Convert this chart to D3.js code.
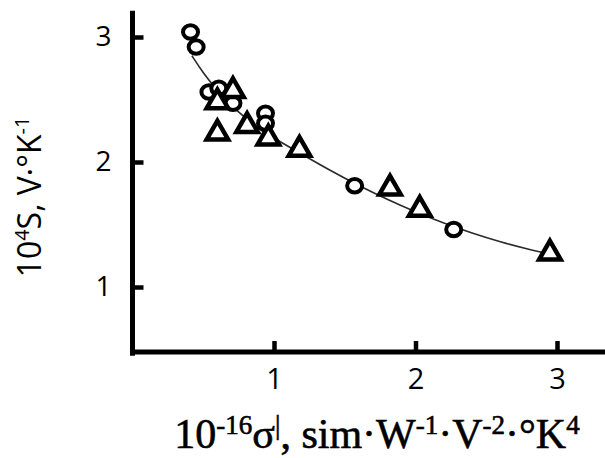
<!DOCTYPE html>
<html>
<head>
<meta charset="utf-8">
<script src="https://cdn.jsdelivr.net/npm/d3@7"></script>
<style>
  html, body { margin: 0; padding: 0; background: #fff; }
  svg { display: block; }
</style>
</head>
<body>
<script>
// ---- data ----
const circleX = [0.41, 0.45, 0.54, 0.61, 0.71, 0.94, 0.94, 1.57, 2.27];
const circleY = [3.04, 2.92, 2.56, 2.59, 2.47, 2.39, 2.31, 1.81, 1.46];
const triangleX = [0.71, 0.60, 0.60, 0.81, 0.96, 1.18, 1.82, 2.03, 2.95];
const triangleY = [2.57, 2.48, 2.23, 2.29, 2.19, 2.10, 1.79, 1.62, 1.27];
const curveX = [0.42, 0.50, 0.60, 0.70, 0.80, 0.90, 1.00, 1.20, 1.40, 1.60, 1.80, 2.00, 2.20, 2.40, 2.60, 2.80, 3.00];
const curveY = [2.85, 2.71, 2.57, 2.45, 2.35, 2.26, 2.19, 2.06, 1.93, 1.81, 1.70, 1.60, 1.51, 1.43, 1.36, 1.30, 1.25];
const xTicks = [1, 2, 3];
const yTicks = [1, 2, 3];
const xTickLabels = ["1", "2", "3"];
const yTickLabels = ["1", "2", "3"];

const W = 605, H = 458;
const svg = d3.select("body").append("svg").attr("width", W).attr("height", H);

const x = d3.scaleLinear().domain([0, 3]).range([132.5, 557]);
const y = d3.scaleLinear().domain([1, 3]).range([287, 37]);

// axes lines
svg.append("line")
  .attr("x1", x(0) - 2).attr("x2", W)
  .attr("y1", y(0.48)).attr("y2", y(0.48))
  .attr("stroke", "#000").attr("stroke-width", 5);
svg.append("line")
  .attr("x1", x(0)).attr("x2", x(0))
  .attr("y1", y(3.21)).attr("y2", y(0.45))
  .attr("stroke", "#000").attr("stroke-width", 5);

// x axis
const xAxis = d3.axisBottom(x).tickValues(xTicks)
  .tickFormat((d, i) => xTickLabels[i])
  .tickSize(-11).tickSizeOuter(0).tickPadding(16);
const gx = svg.append("g").attr("transform", `translate(0,${y(0.48)})`).call(xAxis);
gx.select(".domain").remove();
gx.selectAll(".tick line").attr("stroke", "#000").attr("stroke-width", 4.5);
gx.selectAll(".tick text").attr("fill", "#000")
  .style("font-family", "'Open Sans', sans-serif").style("font-size", "29px");

// y axis
const yAxis = d3.axisLeft(y).tickValues(yTicks)
  .tickFormat((d, i) => yTickLabels[i])
  .tickSize(-11).tickSizeOuter(0).tickPadding(21);
const gy = svg.append("g").attr("transform", `translate(${x(0)},0)`).call(yAxis);
gy.select(".domain").remove();
gy.selectAll(".tick line").attr("stroke", "#000").attr("stroke-width", 4.5);
gy.selectAll(".tick text").attr("fill", "#000")
  .style("font-family", "'Open Sans', sans-serif").style("font-size", "28px");

// fitted curve
const curveData = curveX.map((v, i) => [v, curveY[i]]);
svg.append("path")
  .datum(curveData)
  .attr("d", d3.line().x(d => x(d[0])).y(d => y(d[1])).curve(d3.curveBasis))
  .attr("fill", "none").attr("stroke", "#2a2a2a").attr("stroke-width", 1.6);

// circles
const circles = circleX.map((v, i) => [v, circleY[i]]);
svg.append("g").selectAll("ellipse").data(circles).join("ellipse")
  .attr("cx", d => x(d[0])).attr("cy", d => y(d[1])).attr("rx", 7.5).attr("ry", 6.8)
  .attr("fill", "#fff").attr("stroke", "#000").attr("stroke-width", 4);

// triangles
const tris = triangleX.map((v, i) => [v, triangleY[i]]);
const triSym = d3.symbol().type(d3.symbolTriangle).size(200);
svg.append("g").selectAll("path").data(tris).join("path")
  .attr("transform", d => `translate(${x(d[0])},${y(d[1])})`)
  .attr("d", triSym)
  .attr("fill", "#fff").attr("stroke", "#000").attr("stroke-width", 4.5)
  .attr("stroke-linejoin", "miter");

// y title
const yt = svg.append("text")
  .attr("transform", `translate(41,197) rotate(-90)`)
  .attr("text-anchor", "middle")
  .style("font-family", "'Open Sans', sans-serif").style("font-size", "32px").attr("fill", "#000");
yt.append("tspan").text("10");
yt.append("tspan").text("4").style("font-size", "20px").attr("dy", -12);
yt.append("tspan").text("S, V·°K").attr("dy", 12);
yt.append("tspan").text("-1").style("font-size", "20px").attr("dy", -12);

// x title
const xt = svg.append("text")
  .attr("x", 377).attr("y", 448)
  .attr("text-anchor", "middle")
  .style("font-family", "'Liberation Serif', serif").style("font-size", "42px")
  .attr("fill", "#000").attr("stroke", "#000").attr("stroke-width", 0.6);
const sup = (t) => xt.append("tspan").text(t).style("font-size", "27px").attr("dy", -14);
const base = (t) => xt.append("tspan").text(t).attr("dy", 14);
xt.append("tspan").text("10");
sup("-16");
base("σ");
sup("|");
base(", sim·W");
sup("-1");
base("·V");
sup("-2");
base("·°K");
sup("4");
</script>
</body>
</html>
